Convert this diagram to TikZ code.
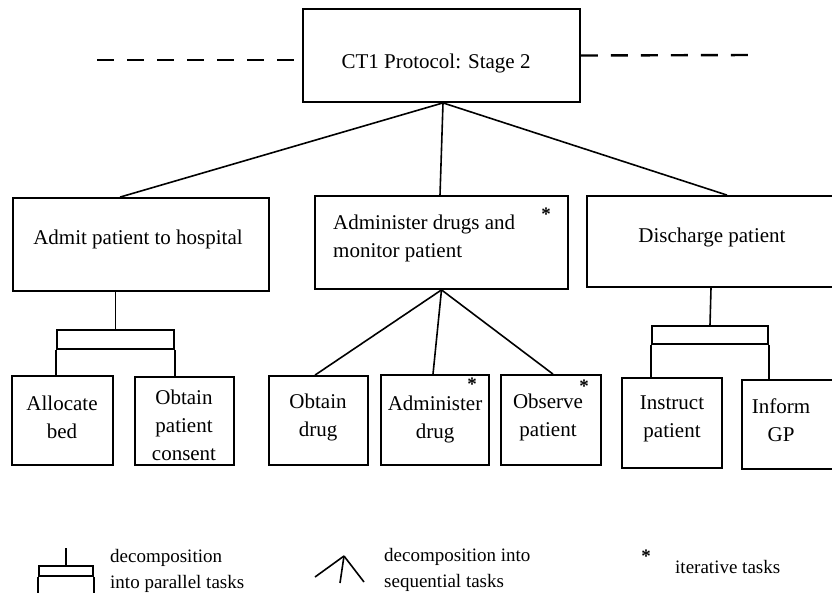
\documentclass[tikz,border=0pt]{standalone}
\usepackage{fontspec}
\setmainfont{Liberation Serif}
\usetikzlibrary{calc}
\begin{document}
\begin{tikzpicture}[x=1pt,y=-1pt,
  box/.style={draw, line width=1.8pt, inner sep=0pt},
  conn/.style={line width=1.6pt},
  pbar/.style={draw, line width=1.8pt, inner sep=0pt},
  lbl/.style={font=\fontsize{21}{28}\selectfont, align=center, inner sep=0pt},
  leg/.style={font=\fontsize{19}{26}\selectfont, align=left, inner sep=0pt, anchor=west},
  starmark/.style={font=\bfseries\fontsize{19}{19}\selectfont, inner sep=0pt},
  dashline/.style={line width=2.4pt, dash pattern=on 17pt off 13pt}
]
\clip (0,0) rectangle (832,592);
\fill[white] (0,0) rectangle (832,592);

% boxes
\node[box, minimum width=277, minimum height=93] (top) at (441.5,55.5) {};
\node[box, minimum width=256, minimum height=93] (admit) at (141,244.5) {};
\node[box, minimum width=253, minimum height=93] (admin) at (441.5,242.5) {};
\node[box, minimum width=258, minimum height=91] (disch) at (716,241.5) {};
\node[box, minimum width=101, minimum height=89] (alloc) at (62.5,420.5) {};
\node[box, minimum width=99, minimum height=88] (consent) at (184.5,421) {};
\node[box, minimum width=99, minimum height=89] (odrug) at (318.5,420.5) {};
\node[box, minimum width=108, minimum height=90] (adrug) at (435,420) {};
\node[box, minimum width=100, minimum height=90] (observe) at (551,420) {};
\node[box, minimum width=100, minimum height=90] (instruct) at (672,423) {};
\node[box, minimum width=103, minimum height=89] (inform) at (793.5,424.5) {};

% texts
\node[lbl] (ttop) at (436,63) {CT1 Protocol: Stage 2};
\node[lbl] (tadmit) at (138,239) {Admit patient to hospital};
\node[lbl, align=left, anchor=west] (tadmin) at (333,238) {Administer drugs and\\monitor patient};
\node[lbl] (tdisch) at (712,237) {Discharge patient};
\node[starmark] (sadmin) at (546,214) {*};
\node[lbl] (talloc) at (62,417) {Allocate\\bed};
\node[lbl] (tconsent) at (184,425) {Obtain\\patient\\consent};
\node[lbl] (todrug) at (318,417.5) {Obtain\\drug};
\node[lbl] (tadrug) at (435,419) {Administer\\drug};
\node[starmark] (sadrug) at (472,384) {*};
\node[lbl] (tobserve) at (548,417) {Observe\\patient};
\node[starmark] (sobs) at (584,386) {*};
\node[lbl] (tinstruct) at (672,419) {Instruct\\patient};
\node[lbl] (tinform) at (781,420.5) {Inform\\GP};

% dashed lines
\coordinate (dl) at (97,60);
\coordinate (dr) at (751,55);
\draw[dashline] (dl) -- (dl -| top.west);
\draw[dashline] (top.east) -- (dr);

% top decomposition (sequential)
\draw[conn] ([xshift=1.5pt]top.south) -- ([xshift=-21pt]admit.north);
\draw[conn] ([xshift=1.5pt]top.south) -- ([xshift=-1.5pt]admin.north);
\draw[conn] ([xshift=1.5pt]top.south) -- ([xshift=11pt]disch.north);

% admit: parallel
\node[pbar, minimum width=117, minimum height=19] (parA) at (115.5,339.5) {};
\draw[conn] (admit.south -| parA.north) -- (parA.north);
\draw[conn] (parA.south west) -- (parA.south west |- alloc.north);
\draw[conn] (parA.south east) -- (parA.south east |- consent.north);

% admin: sequential
\draw[conn] (admin.south) -- ([xshift=-3.5pt]odrug.north);
\draw[conn] (admin.south) -- ([xshift=-2pt]adrug.north);
\draw[conn] (admin.south) -- ([xshift=2pt]observe.north);

% discharge: parallel
\node[pbar, minimum width=116, minimum height=18] (parB) at (710,335) {};
\draw[conn] ([xshift=1pt]disch.south -| parB.north) -- (parB.north);
\draw[conn] (parB.south west) -- (parB.south west |- instruct.north);
\draw[conn] (parB.south east) -- (parB.south east |- inform.north);

% legend: parallel
\node[pbar, minimum width=54, minimum height=10] (parL) at (66,571) {};
\coordinate (lstem) at (66,548);
\coordinate (lbot) at (0,600);
\draw[conn] (lstem) -- (parL.north);
\draw[conn] (parL.south west) -- (parL.south west |- lbot);
\draw[conn] (parL.south east) -- (parL.south east |- lbot);
\node[leg] (lpar) at (110,571) {decomposition\\into parallel tasks};

% legend: sequential
\coordinate (sa) at (344,556);
\coordinate (sl) at (315,577);
\coordinate (sr) at (364,582);
\coordinate (sm) at (340,583);
\draw[conn] (sa) -- (sl);
\draw[conn] (sa) -- (sr);
\draw[conn] (sa) -- (sm);
\node[leg] (lseq) at (384,570) {decomposition into\\sequential tasks};

% legend: iterative
\node[starmark] (lstar) at (646,556) {*};
\node[leg] (liter) at (675,567) {iterative tasks};
\end{tikzpicture}
\end{document}
